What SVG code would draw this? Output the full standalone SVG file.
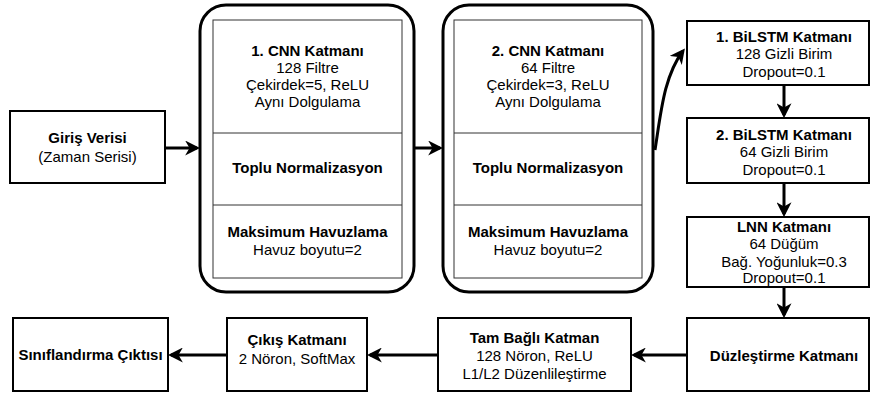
<svg xmlns="http://www.w3.org/2000/svg" width="871" height="394" viewBox="0 0 871 394">
<style>
  .box { fill: #ffffff; stroke: #000000; stroke-width: 2; }
  .outer { fill: #ffffff; stroke: #000000; stroke-width: 3; }
  .inner { fill: none; stroke: #333333; stroke-width: 1; }
  .conn { fill: none; stroke: #000000; stroke-width: 3; marker-end: url(#arr); }
  text { font-family: "Liberation Sans", Arial, Helvetica, sans-serif; font-size: 15px; fill: #000000; text-anchor: middle; }
  .b { font-weight: bold; }
</style>
<defs>
  <marker id="arr" viewBox="0 0 12 12" markerWidth="15" markerHeight="15" refX="9.5" refY="6" orient="auto" markerUnits="userSpaceOnUse">
    <path d="M0,0 L12,6 L0,12 L3.5,6 z" fill="#000000"/>
  </marker>
</defs>
<rect width="871" height="394" fill="#ffffff"/>

<g id="connectors">
  <path class="conn" d="M165,148 L197,148"/>
  <path class="conn" d="M414,148 L440,148"/>
  <path class="conn" d="M655,150 C661,112 664,76 683,51"/>
  <path class="conn" d="M784,85 L784,115"/>
  <path class="conn" d="M784,183 L784,214"/>
  <path class="conn" d="M784,287 L784,315"/>
  <path class="conn" d="M687,355 L634,355"/>
  <path class="conn" d="M438,355 L370,355"/>
  <path class="conn" d="M227,355 L171,355"/>
</g>

<g id="giris">
  <rect class="box" x="10" y="111" width="155" height="72"/>
  <text class="b" x="87.5" y="143">Giriş Verisi</text>
  <text x="87.5" y="162">(Zaman Serisi)</text>
</g>

<g id="cnn1">
  <rect class="outer" x="200" y="5" width="214" height="287" rx="26" ry="26"/>
  <rect class="inner" x="213" y="20" width="189" height="258"/>
  <line class="inner" x1="213" y1="133" x2="402" y2="133"/>
  <line class="inner" x1="213" y1="205" x2="402" y2="205"/>
  <text class="b" x="307.5" y="56">1. CNN Katmanı</text>
  <text x="307.5" y="73">128 Filtre</text>
  <text x="307.5" y="90">Çekirdek=5, ReLU</text>
  <text x="307.5" y="107">Aynı Dolgulama</text>
  <text class="b" x="307.5" y="173">Toplu Normalizasyon</text>
  <text class="b" x="307.5" y="237">Maksimum Havuzlama</text>
  <text x="307.5" y="255">Havuz boyutu=2</text>
</g>

<g id="cnn2">
  <rect class="outer" x="443" y="5" width="210" height="287" rx="26" ry="26"/>
  <rect class="inner" x="454" y="20" width="188" height="258"/>
  <line class="inner" x1="454" y1="133" x2="642" y2="133"/>
  <line class="inner" x1="454" y1="205" x2="642" y2="205"/>
  <text class="b" x="548" y="56">2. CNN Katmanı</text>
  <text x="548" y="73">64 Filtre</text>
  <text x="548" y="90">Çekirdek=3, ReLU</text>
  <text x="548" y="107">Aynı Dolgulama</text>
  <text class="b" x="548" y="173">Toplu Normalizasyon</text>
  <text class="b" x="548" y="237">Maksimum Havuzlama</text>
  <text x="548" y="255">Havuz boyutu=2</text>
</g>

<g id="bilstm1">
  <rect class="box" x="687" y="21" width="182" height="64"/>
  <text class="b" x="784" y="42">1. BiLSTM Katmanı</text>
  <text x="784" y="59">128 Gizli Birim</text>
  <text x="784" y="77">Dropout=0.1</text>
</g>

<g id="bilstm2">
  <rect class="box" x="687" y="118" width="182" height="65"/>
  <text class="b" x="784" y="140">2. BiLSTM Katmanı</text>
  <text x="784" y="157">64 Gizli Birim</text>
  <text x="784" y="175">Dropout=0.1</text>
</g>

<g id="lnn">
  <rect class="box" x="687" y="217" width="182" height="70"/>
  <text class="b" x="784" y="232">LNN Katmanı</text>
  <text x="784" y="249">64 Düğüm</text>
  <text x="784" y="267">Bağ. Yoğunluk=0.3</text>
  <text x="784" y="283">Dropout=0.1</text>
</g>

<g id="duzlestirme">
  <rect class="box" x="687" y="318" width="182" height="73"/>
  <text class="b" x="784" y="361">Düzleştirme Katmanı</text>
</g>

<g id="tambagli">
  <rect class="box" x="438" y="318" width="193" height="73"/>
  <text class="b" x="534.5" y="343">Tam Bağlı Katman</text>
  <text x="534.5" y="361">128 Nöron, ReLU</text>
  <text x="534.5" y="379">L1/L2 Düzenlileştirme</text>
</g>

<g id="cikis">
  <rect class="box" x="227" y="318" width="140" height="73"/>
  <text class="b" x="297" y="345">Çıkış Katmanı</text>
  <text x="297" y="364">2 Nöron, SoftMax</text>
</g>

<g id="siniflandirma">
  <rect class="box" x="13" y="318" width="155" height="73"/>
  <text class="b" x="90.5" y="360">Sınıflandırma Çıktısı</text>
</g>
</svg>
